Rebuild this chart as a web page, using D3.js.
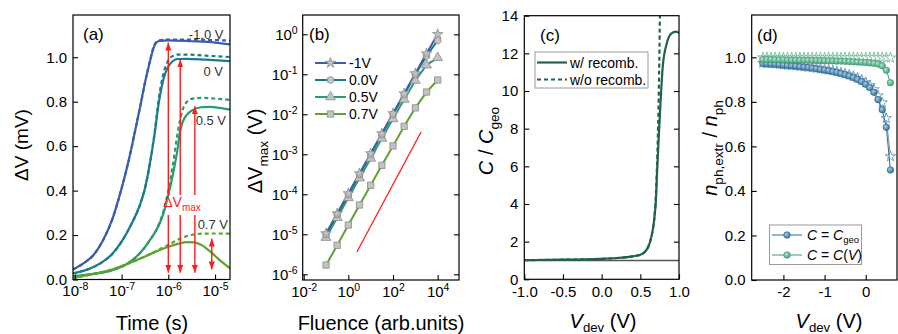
<!DOCTYPE html>
<html><head><meta charset="utf-8">
<script src="https://cdn.jsdelivr.net/npm/d3@7"></script>
<style>body{margin:0;background:#fff}svg{display:block}</style>
</head><body>
<svg id="chart" width="898" height="334"></svg>
<script>
// ---------------- DATA ----------------
// Panel (a): [log10(time/s), dV (mV)]
const aSeriesNames = ["-1.0 V", "0 V", "0.5 V", "0.7 V"];
const aSolidM10 = [[-8.04,0.045],[-7.8,0.075],[-7.6,0.11],[-7.4,0.175],[-7.2,0.27],[-7.0,0.41],[-6.9,0.49],[-6.8,0.58],[-6.7,0.68],[-6.6,0.78],[-6.5,0.885],[-6.4,0.975],[-6.3,1.05],[-6.2,1.073],[-6.0,1.076],[-5.5,1.072],[-5.0,1.066],[-4.68,1.058]];
const aDashM10  = [[-8.04,0.045],[-7.8,0.075],[-7.6,0.11],[-7.4,0.175],[-7.2,0.27],[-7.0,0.41],[-6.9,0.49],[-6.8,0.58],[-6.7,0.68],[-6.6,0.78],[-6.5,0.885],[-6.4,0.978],[-6.3,1.055],[-6.2,1.076],[-6.0,1.079],[-5.5,1.079],[-5.0,1.077],[-4.68,1.075]];
const aSolid00 = [[-8.04,0.028],[-7.8,0.04],[-7.6,0.056],[-7.4,0.08],[-7.2,0.115],[-7.0,0.17],[-6.8,0.245],[-6.6,0.34],[-6.5,0.41],[-6.4,0.515],[-6.3,0.645],[-6.2,0.8],[-6.1,0.905],[-6.0,0.958],[-5.9,0.983],[-5.8,0.992],[-5.6,0.993],[-5.2,0.989],[-4.68,0.982]];
const aDash00  = [[-8.04,0.028],[-7.8,0.04],[-7.6,0.056],[-7.4,0.08],[-7.2,0.115],[-7.0,0.17],[-6.8,0.245],[-6.6,0.34],[-6.5,0.41],[-6.4,0.515],[-6.3,0.65],[-6.2,0.82],[-6.1,0.93],[-6.0,0.985],[-5.9,1.006],[-5.8,1.012],[-5.6,1.012],[-5.2,1.007],[-4.68,1.001]];
const aSolid05 = [[-8.04,0.015],[-7.6,0.025],[-7.2,0.042],[-6.9,0.068],[-6.6,0.12],[-6.4,0.175],[-6.2,0.245],[-6.1,0.3],[-6.0,0.38],[-5.9,0.475],[-5.8,0.59],[-5.75,0.665],[-5.7,0.705],[-5.6,0.742],[-5.5,0.76],[-5.3,0.775],[-5.1,0.777],[-4.9,0.772],[-4.68,0.764]];
const aDash05  = [[-8.04,0.015],[-7.6,0.025],[-7.2,0.042],[-6.9,0.068],[-6.6,0.12],[-6.4,0.175],[-6.2,0.25],[-6.1,0.31],[-6.0,0.4],[-5.9,0.52],[-5.8,0.66],[-5.7,0.76],[-5.6,0.8],[-5.5,0.813],[-5.3,0.817],[-5.0,0.814],[-4.68,0.808]];
const aSolid07 = [[-8.04,0.008],[-7.6,0.025],[-7.2,0.045],[-6.9,0.068],[-6.6,0.094],[-6.3,0.122],[-6.0,0.147],[-5.8,0.16],[-5.6,0.168],[-5.45,0.167],[-5.3,0.156],[-5.1,0.125],[-4.9,0.087],[-4.68,0.05]];
const aDash07  = [[-8.04,0.008],[-7.6,0.025],[-7.2,0.045],[-6.9,0.068],[-6.6,0.094],[-6.3,0.124],[-6.1,0.145],[-5.9,0.168],[-5.7,0.188],[-5.5,0.2],[-5.3,0.206],[-5.0,0.207],[-4.68,0.206]];
const aXTicks = [1e-8, 1e-7, 1e-6, 1e-5];
const aYTicks = [0, 0.2, 0.4, 0.6, 0.8, 1.0];
const aArrowTimes   = [1.0e-6, 1.8e-6, 3.7e-6, 8.5e-6];
const aArrowTops    = [1.066, 0.99, 0.78, 0.184];
const aArrowBottoms = [0.03, 0.03, 0.03, 0.045];

// Panel (b)
const bFluence = [0.1, 0.316, 1, 3.16, 10, 31.6, 100, 316, 1000, 3162, 10000];
const bNames = ["-1V", "0.0V", "0.5V", "0.7V"];
const bM10 = [1.05e-5, 3.3e-5, 1.05e-4, 3.3e-4, 1.05e-3, 3.3e-3, 1.05e-2, 3.3e-2, 0.105, 0.33, 1.0];
const b00  = [1.0e-5, 3.15e-5, 1.0e-4, 3.15e-4, 1.0e-3, 3.15e-3, 1.0e-2, 3.1e-2, 0.098, 0.29, 0.70];
const b05  = [8.3e-6, 2.6e-5, 8.2e-5, 2.55e-4, 7.9e-4, 2.5e-3, 7.7e-3, 2.35e-2, 0.07, 0.17, 0.26];
const b07  = [1.7e-6, 5.3e-6, 1.7e-5, 5.4e-5, 1.68e-4, 5.3e-4, 1.62e-3, 5.0e-3, 0.0145, 0.036, 0.072];
const bRefX = [2.4, 1800];
const bRefY = [3.6e-6, 3.6e-3];
const bXTicks = [1e-2, 1e0, 1e2, 1e4];
const bYTicks = [1e-6, 1e-5, 1e-4, 1e-3, 1e-2, 1e-1, 1e0];

// Panel (c)
const cVWith = [-1, -0.5, 0, 0.2, 0.4, 0.5, 0.55, 0.6, 0.63, 0.66, 0.68, 0.7, 0.72, 0.74, 0.76, 0.79, 0.84, 0.9, 0.96, 1.0];
const cWith  = [1.02, 1.04, 1.09, 1.13, 1.22, 1.3, 1.42, 1.7, 2.05, 2.6, 3.2, 4.1, 6.0, 7.7, 9.3, 11.3, 12.5, 13.05, 13.15, 13.1];
const cVWithout = [-1, -0.5, 0, 0.2, 0.4, 0.5, 0.55, 0.6, 0.63, 0.66, 0.68, 0.7, 0.72, 0.73, 0.74, 0.75, 0.76];
const cWithout  = [1.02, 1.04, 1.09, 1.13, 1.22, 1.3, 1.42, 1.7, 2.05, 2.6, 3.2, 4.4, 6.6, 8.1, 10.2, 13.0, 16.5];
const cGeoLine = [1, 1];
const cNames = ["w/ recomb.", "w/o recomb."];
const cXTicks = [-1.0, -0.5, 0.0, 0.5, 1.0];
const cYTicks = [0, 2, 4, 6, 8, 10, 12, 14];

// Panel (d)
const dV = [-2.5,-2.4,-2.3,-2.2,-2.1,-2.0,-1.9,-1.8,-1.7,-1.6,-1.5,-1.4,-1.3,-1.2,-1.1,-1.0,-0.9,-0.8,-0.7,-0.6,-0.5,-0.4,-0.3,-0.2,-0.1,0.0,0.1,0.2,0.3,0.4,0.5,0.6];
const dGeo = [0.972,0.971,0.970,0.969,0.967,0.965,0.963,0.962,0.960,0.958,0.956,0.954,0.952,0.949,0.946,0.943,0.940,0.936,0.932,0.927,0.922,0.916,0.909,0.901,0.891,0.879,0.864,0.843,0.810,0.765,0.686,0.494];
const dGeoStar = [0.974,0.973,0.972,0.971,0.969,0.967,0.965,0.964,0.962,0.960,0.958,0.956,0.954,0.951,0.948,0.946,0.943,0.940,0.936,0.931,0.926,0.921,0.915,0.907,0.898,0.887,0.874,0.856,0.828,0.797,0.726,0.555];
const dCV = [0.990,0.990,0.990,0.989,0.989,0.989,0.988,0.988,0.988,0.987,0.987,0.987,0.986,0.986,0.985,0.985,0.984,0.984,0.983,0.983,0.982,0.981,0.980,0.979,0.978,0.977,0.975,0.973,0.970,0.962,0.942,0.886];
const dCVStar = [0.999,0.999,0.999,0.999,0.999,0.999,0.999,0.999,0.999,0.999,0.999,0.999,0.999,0.999,0.999,0.999,0.999,0.999,0.999,0.999,0.999,0.999,0.999,0.999,0.999,0.999,0.999,0.999,0.999,0.999,0.998,0.998];
const dXTicks = [-2, -1, 0];
const dYTicks = [0, 0.2, 0.4, 0.6, 0.8, 1.0];

// ---------------- STYLE ----------------
const FONT = "Arial, 'Liberation Sans', sans-serif";
const colA = ["#3b5dab", "#1b7b8b", "#2a9a6f", "#5ea22f"];
const red = "#ff1c1c";
const cCol = "#22614f";
const dBlue = "#2d6a93", dGreen = "#3a9b76";

const svg = d3.select("#chart").attr("font-family", FONT);
const defs = svg.append("defs");

function frame(P){
  svg.append("rect").attr("x",P.l).attr("y",P.t).attr("width",P.r-P.l).attr("height",P.b-P.t)
    .attr("fill","none").attr("stroke","#000").attr("stroke-width",1.2);
}
function clip(id,P){
  defs.append("clipPath").attr("id",id).append("rect").attr("x",P.l).attr("y",P.t).attr("width",P.r-P.l).attr("height",P.b-P.t);
}
function styleAxis(g){
  g.attr("font-size",15).attr("font-family",FONT);
  g.select(".domain").remove();
  g.selectAll(".tick line").attr("stroke","#000").attr("stroke-width",1.1);
  g.selectAll(".tick text").attr("fill","#000");
}
function supLabels(g){
  g.selectAll(".tick text").each(function(d){
    const e = Math.round(Math.log10(d));
    const t = d3.select(this).text(null);
    t.append("tspan").text("10");
    t.append("tspan").attr("dy","-0.55em").attr("font-size","10.5px").text(e<0 ? "-"+(-e) : String(e));
  });
}
const fmt1 = d => d3.format(".1f")(d).replace("\u2212","-");
const fmt0 = d => d3.format("d")(d).replace("\u2212","-");

function yTitle(x,y,size,parts){
  const t = svg.append("text").attr("transform",`translate(${x},${y}) rotate(-90)`)
    .attr("text-anchor","middle").attr("font-size",size).attr("fill","#000");
  parts.forEach(p=>{
    const s = t.append("tspan").text(p.t);
    if(p.i) s.attr("font-style","italic");
    if(p.sub){ s.attr("font-size",size*0.68).attr("dy",size*0.3); }
    if(p.back){ s.attr("dy",-size*0.3); }
  });
  return t;
}
function xTitle(x,y,size,parts){
  const t = svg.append("text").attr("x",x).attr("y",y).attr("text-anchor","middle").attr("font-size",size).attr("fill","#000");
  parts.forEach(p=>{
    const s = t.append("tspan").text(p.t);
    if(p.i) s.attr("font-style","italic");
    if(p.sub){ s.attr("font-size",size*0.66).attr("dy",size*0.2); }
    if(p.back){ s.attr("dy",-size*0.2); }
  });
}
function panelLabel(x,y,s){ svg.append("text").attr("x",x).attr("y",y).attr("font-size",17).attr("fill","#000").text(s); }

// ---------------- PANEL (a) ----------------
const A = {l:73, r:230, t:15, b:279.5};
const xa = d3.scaleLog().domain([Math.pow(10,-8.04), Math.pow(10,-4.68)]).range([A.l, A.r]);
const ya = d3.scaleLinear().domain([0,1.19]).range([A.b, A.t]);
clip("clipA", A);
const lineA = d3.line().x(d=>xa(Math.pow(10,d[0]))).y(d=>ya(d[1])).curve(d3.curveMonotoneX);
const gA = svg.append("g").attr("clip-path","url(#clipA)");
const aSolids = [aSolidM10, aSolid00, aSolid05, aSolid07];
const aDashes = [aDashM10, aDash00, aDash05, aDash07];
aSolids.forEach((s,i)=> gA.append("path").datum(s).attr("d",lineA).attr("fill","none").attr("stroke",colA[i]).attr("stroke-width",2.2));
aDashes.forEach((s,i)=> gA.append("path").datum(s).attr("d",lineA).attr("fill","none").attr("stroke",colA[i]).attr("stroke-width",2.2).attr("stroke-dasharray","4,3"));

// arrows
defs.append("marker").attr("id","ah").attr("viewBox","0 0 8 6").attr("refX",8).attr("refY",3)
  .attr("markerWidth",8).attr("markerHeight",6).attr("markerUnits","userSpaceOnUse").attr("orient","auto-start-reverse")
  .append("path").attr("d","M0,0L8,3L0,6Z").attr("fill",red);
const gapTop = ya(0.38), gapBot = ya(0.29);
aArrowTimes.forEach((t,i)=>{
  const x = xa(t);
  if(i<3){
    svg.append("line").attr("x1",x).attr("x2",x).attr("y1",gapBot).attr("y2",ya(aArrowBottoms[i]))
      .attr("stroke",red).attr("stroke-width",1.4).attr("marker-end","url(#ah)");
    svg.append("line").attr("x1",x).attr("x2",x).attr("y1",gapTop).attr("y2",ya(aArrowTops[i]))
      .attr("stroke",red).attr("stroke-width",1.4).attr("marker-end","url(#ah)");
  } else {
    svg.append("line").attr("x1",x).attr("x2",x).attr("y1",ya(aArrowBottoms[i])).attr("y2",ya(aArrowTops[i]))
      .attr("stroke",red).attr("stroke-width",1.4).attr("marker-start","url(#ah)").attr("marker-end","url(#ah)");
  }
});
const dvm = svg.append("text").attr("x",182).attr("y",207).attr("text-anchor","middle").attr("font-size",14).attr("fill",red);
dvm.append("tspan").text("\u0394V");
dvm.append("tspan").attr("font-size",10).attr("dy",4).text("max");

// series labels
const aLabPos = [[223.5,39],[223,76],[226,125],[228,229]];
aSeriesNames.forEach((n,i)=> svg.append("text").attr("x",aLabPos[i][0]).attr("y",aLabPos[i][1]).attr("text-anchor","end")
  .attr("font-size",13).attr("fill","#333").text(n));

frame(A);
svg.append("g").attr("transform",`translate(0,${A.b})`)
  .call(d3.axisBottom(xa).tickValues(aXTicks).tickSize(-5).tickSizeOuter(0).tickPadding(6))
  .call(styleAxis).call(supLabels);
svg.append("g").attr("transform",`translate(${A.l},0)`)
  .call(d3.axisLeft(ya).tickValues(aYTicks).tickSize(-5).tickSizeOuter(0).tickPadding(6).tickFormat(fmt1))
  .call(styleAxis);
panelLabel(83,40,"(a)");
yTitle(28,145,19,[{t:"\u0394V (mV)"}]);
xTitle(152,330,20,[{t:"Time (s)"}]);

// ---------------- PANEL (b) ----------------
const B = {l:302.7, r:459, t:15, b:280};
const xb = d3.scaleLog().domain([Math.pow(10,-2.045), Math.pow(10,4.955)]).range([B.l, B.r]);
const yb = d3.scaleLog().domain([Math.pow(10,-6.1425), Math.pow(10,0.4825)]).range([B.b, B.t]);
const bSeries = [bM10, b00, b05, b07];
const hexPath = r => { let p=""; for(let i=0;i<6;i++){const a=Math.PI/3*i+Math.PI/6; p+=(i?"L":"M")+(r*Math.cos(a)).toFixed(2)+","+(r*Math.sin(a)).toFixed(2);} return p+"Z"; };
const bSym = [d3.symbol(d3.symbolStar,34)(), hexPath(3.7), d3.symbol(d3.symbolTriangle,42)(), d3.symbol(d3.symbolSquare,40)()];
const lineB = d3.line().x(d=>xb(d[0])).y(d=>yb(d[1]));
[3,2,1,0].forEach(i=>{
  const pts = bFluence.map((f,k)=>[f,bSeries[i][k]]);
  svg.append("path").datum(pts).attr("d",lineB).attr("fill","none").attr("stroke",colA[i]).attr("stroke-width",2);
});
[3,2,1,0].forEach(i=>{
  const pts = bFluence.map((f,k)=>[f,bSeries[i][k]]);
  svg.append("g").selectAll("path").data(pts).join("path")
    .attr("transform",d=>`translate(${xb(d[0])},${yb(d[1])})`).attr("d",bSym[i])
    .attr("fill","#c2c2c2").attr("stroke","#8c8c8c").attr("stroke-width",0.8);
});
svg.append("path").datum(bRefX.map((x,k)=>[x,bRefY[k]])).attr("d",lineB).attr("fill","none").attr("stroke",red).attr("stroke-width",1.3);
// legend
bNames.forEach((n,i)=>{
  const y = 63 + i*17;
  svg.append("line").attr("x1",315).attr("x2",346).attr("y1",y).attr("y2",y).attr("stroke",colA[i]).attr("stroke-width",2);
  svg.append("path").attr("transform",`translate(330.5,${y})`).attr("d",bSym[i]).attr("fill","#c2c2c2").attr("stroke","#8c8c8c").attr("stroke-width",0.8);
  svg.append("text").attr("x",349).attr("y",y+5).attr("font-size",14).attr("fill","#000").text(n);
});
frame(B);
svg.append("g").attr("transform",`translate(0,${B.b})`)
  .call(d3.axisBottom(xb).tickValues(bXTicks).tickSize(-5).tickSizeOuter(0).tickPadding(6))
  .call(styleAxis).call(supLabels);
svg.append("g").attr("transform",`translate(${B.l},0)`)
  .call(d3.axisLeft(yb).tickValues(bYTicks).tickSize(-5).tickSizeOuter(0).tickPadding(5))
  .call(styleAxis).call(supLabels);
svg.append("g").attr("transform",`translate(${B.r},0)`)
  .call(d3.axisRight(yb).tickValues(bYTicks).tickSize(-5).tickSizeOuter(0).tickFormat(""))
  .call(styleAxis);
panelLabel(309,40,"(b)");
yTitle(261.5,151,20,[{t:"\u0394V"},{t:"max",sub:true},{t:" (V)",back:true}]);
xTitle(381,330,20,[{t:"Fluence (arb.units)"}]);

// ---------------- PANEL (c) ----------------
const C = {l:524.3, r:679, t:15.7, b:279.3};
const xc = d3.scaleLinear().domain([-1,1]).range([C.l, C.r]);
const yc = d3.scaleLinear().domain([0,14]).range([C.b, C.t]);
clip("clipC", C);
const gC = svg.append("g").attr("clip-path","url(#clipC)");
gC.append("line").attr("x1",xc(-1)).attr("x2",xc(1)).attr("y1",yc(cGeoLine[0])).attr("y2",yc(cGeoLine[1])).attr("stroke","#555").attr("stroke-width",1.6);
const lineC = d3.line().x(d=>xc(d[0])).y(d=>yc(d[1])).curve(d3.curveMonotoneX);
gC.append("path").datum(cVWith.map((v,k)=>[v,cWith[k]])).attr("d",lineC).attr("fill","none").attr("stroke",cCol).attr("stroke-width",2.2);
gC.append("path").datum(cVWithout.map((v,k)=>[v,cWithout[k]])).attr("d",lineC).attr("fill","none").attr("stroke",cCol).attr("stroke-width",2.2).attr("stroke-dasharray","4,3");
// legend
svg.append("rect").attr("x",535).attr("y",52).attr("width",113).attr("height",36).attr("fill","#fff").attr("stroke","#9a9a9a").attr("stroke-width",1);
cNames.forEach((n,i)=>{
  const y = 62.5 + i*17;
  const ln = svg.append("line").attr("x1",537).attr("x2",567).attr("y1",y).attr("y2",y).attr("stroke",cCol).attr("stroke-width",2.2);
  if(i===1) ln.attr("stroke-dasharray","4,3");
  svg.append("text").attr("x",570).attr("y",y+5).attr("font-size",14).attr("fill","#000").text(n);
});
frame(C);
svg.append("g").attr("transform",`translate(0,${C.b})`)
  .call(d3.axisBottom(xc).tickValues(cXTicks).tickSize(-5).tickSizeOuter(0).tickPadding(7).tickFormat(fmt1))
  .call(styleAxis);
svg.append("g").attr("transform",`translate(${C.l},0)`)
  .call(d3.axisLeft(yc).tickValues(cYTicks).tickSize(-5).tickSizeOuter(0).tickPadding(6).tickFormat(fmt0))
  .call(styleAxis);
svg.append("g").attr("transform",`translate(${C.r},0)`)
  .call(d3.axisRight(yc).tickValues(cYTicks.slice(1,7)).tickSize(-5).tickSizeOuter(0).tickFormat(""))
  .call(styleAxis);
panelLabel(540,41,"(c)");
yTitle(493,141,20,[{t:"C",i:true},{t:" / "},{t:"C",i:true},{t:"geo",sub:true}]);
xTitle(603,328,20,[{t:"V",i:true},{t:"dev",sub:true},{t:" (V)",back:true}]);

// ---------------- PANEL (d) ----------------
const D = {l:751.7, r:897, t:15, b:280};
const xd = d3.scaleLinear().domain([-2.77,0.76]).range([D.l, D.r]);
const yd = d3.scaleLinear().domain([0,1.19]).range([D.b, D.t]);
function grad(id,c0,c1){
  const g = defs.append("radialGradient").attr("id",id).attr("cx","40%").attr("cy","38%").attr("r","65%");
  g.append("stop").attr("offset","0%").attr("stop-color",c0);
  g.append("stop").attr("offset","100%").attr("stop-color",c1);
}
grad("gBlue","#a9cbe0",dBlue);
grad("gGreen","#b5e3cc",dGreen);
const lineD = d3.line().x(d=>xd(d[0])).y(d=>yd(d[1]));
const starSym = d3.symbol(d3.symbolStar,34)();
function starSeries(vals,col){
  const pts = dV.map((v,k)=>[v,vals[k]]);
  svg.append("path").datum(pts).attr("d",lineD).attr("fill","none").attr("stroke",col).attr("stroke-width",0.9);
  svg.append("g").selectAll("path").data(pts).join("path").attr("transform",d=>`translate(${xd(d[0])},${yd(d[1])})`)
    .attr("d",starSym).attr("fill","#fff").attr("stroke",col).attr("stroke-width",0.8);
}
function circSeries(vals,col,gid){
  const pts = dV.map((v,k)=>[v,vals[k]]);
  svg.append("path").datum(pts).attr("d",lineD).attr("fill","none").attr("stroke",col).attr("stroke-width",1);
  svg.append("g").selectAll("circle").data(pts).join("circle").attr("cx",d=>xd(d[0])).attr("cy",d=>yd(d[1]))
    .attr("r",3.3).attr("fill",`url(#${gid})`).attr("stroke",col).attr("stroke-width",0.6);
}
starSeries(dGeoStar,"#5a8cb5");
circSeries(dGeo,dBlue,"gBlue");
starSeries(dCVStar,"#62b893");
circSeries(dCV,dGreen,"gGreen");
// legend
svg.append("rect").attr("x",769.5).attr("y",225).attr("width",92).attr("height",39.5).attr("fill","#fff").attr("stroke","#9a9a9a").attr("stroke-width",1);
const dLeg = [
  {col:dBlue, gid:"gBlue", parts:[{t:"C",i:true},{t:" = "},{t:"C",i:true},{t:"geo",sub:true}]},
  {col:dGreen, gid:"gGreen", parts:[{t:"C",i:true},{t:" = "},{t:"C",i:true},{t:"("},{t:"V",i:true},{t:")"}]}
];
dLeg.forEach((L,i)=>{
  const y = 235 + i*20;
  svg.append("line").attr("x1",772).attr("x2",802).attr("y1",y).attr("y2",y).attr("stroke",L.col).attr("stroke-width",1);
  svg.append("circle").attr("cx",787).attr("cy",y).attr("r",3.3).attr("fill",`url(#${L.gid})`).attr("stroke",L.col).attr("stroke-width",0.6);
  const t = svg.append("text").attr("x",807).attr("y",y+5).attr("font-size",14).attr("fill","#000");
  L.parts.forEach(p=>{ const s=t.append("tspan").text(p.t); if(p.i) s.attr("font-style","italic"); if(p.sub) s.attr("font-size",9.5).attr("dy",3); });
});
frame(D);
svg.append("g").attr("transform",`translate(0,${D.b})`)
  .call(d3.axisBottom(xd).tickValues(dXTicks).tickSize(-5).tickSizeOuter(0).tickPadding(6).tickFormat(fmt0))
  .call(styleAxis);
svg.append("g").attr("transform",`translate(${D.l},0)`)
  .call(d3.axisLeft(yd).tickValues(dYTicks).tickSize(-5).tickSizeOuter(0).tickPadding(6).tickFormat(fmt1))
  .call(styleAxis);
panelLabel(757,41,"(d)");
yTitle(717,148,20,[{t:"n",i:true},{t:"ph,extr",sub:true},{t:" / ",back:true},{t:"n",i:true},{t:"ph",sub:true}]);
xTitle(829,328,20,[{t:"V",i:true},{t:"dev",sub:true},{t:" (V)",back:true}]);
</script>
</body></html>
